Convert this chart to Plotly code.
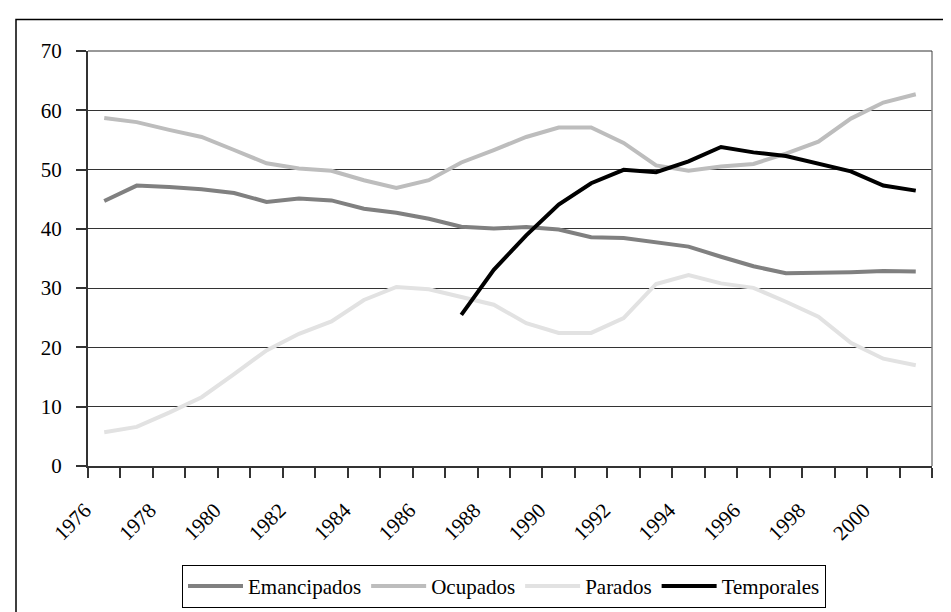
import plotly.graph_objects as go

years = list(range(1976, 2002))
emancipados = [44.7, 47.3, 47.05, 46.7, 46.05, 44.55, 45.1, 44.8, 43.4, 42.7, 41.7, 40.35, 40.05,
               40.3, 39.9, 38.6, 38.45, 37.8, 37.0, 35.3, 33.7, 32.5, 32.55, 32.7, 32.9, 32.8]
ocupados = [58.7, 58.0, 56.7, 55.5, 53.3, 51.05, 50.2, 49.8, 48.2, 46.9, 48.2, 51.2, 53.3,
            55.5, 57.1, 57.1, 54.5, 50.7, 49.8, 50.5, 50.95, 52.7, 54.7, 58.6, 61.3, 62.7]
parados = [5.7, 6.6, 9.0, 11.6, 15.5, 19.5, 22.3, 24.4, 28.0, 30.2, 29.8, 28.5, 27.2,
           24.1, 22.45, 22.45, 24.95, 30.7, 32.2, 30.8, 30.05, 27.7, 25.2, 20.8, 18.1, 17.0]
temporales = [None] * 11 + [25.5, 33.1, 38.9, 44.1, 47.7, 49.95, 49.55, 51.4, 53.8, 52.9,
                            52.3, 51.05, 49.7, 47.3, 46.45]

series_names = ["Emancipados", "Ocupados", "Parados", "Temporales"]
series_values = [emancipados, ocupados, parados, temporales]
series_colors = ["#808080", "#bdbdbd", "#e2e2e2", "#000000"]

# category boundaries for tick marks, labels every other year
tick_positions = [y - 0.5 for y in range(1976, 2003)]
tick_labels = [str(y) if (y - 1976) % 2 == 0 and y <= 2000 else "" for y in range(1976, 2003)]

FONT = "Liberation Serif, Times New Roman, serif"

fig = go.Figure()
for name, vals, col in zip(series_names, series_values, series_colors):
    fig.add_trace(go.Scatter(x=years, y=vals, name=name, mode="lines",
                             line=dict(color=col, width=4), connectgaps=False))

W, H = 951, 612
L, R, T, B = 80, 27, 43, 149
pw, ph = W - L - R, H - T - B

def px_x(x):
    return (x - L) / pw

def px_y(y):
    return (H - B - y) / ph

fig.update_layout(
    width=W, height=H,
    margin=dict(l=L, r=R, t=T, b=B),
    paper_bgcolor="white", plot_bgcolor="white",
    font=dict(family=FONT, size=21, color="#000"),
    showlegend=True,
    legend=dict(orientation="h", x=px_x(496), xanchor="center", y=px_y(563), yanchor="top",
                bordercolor="#000", borderwidth=1, font=dict(size=21, family=FONT),
                bgcolor="white", itemwidth=55, tracegroupgap=0),
    xaxis=dict(range=[1975.5, 2001.5], tickmode="array", tickvals=tick_positions, ticktext=tick_labels,
               tickangle=-45, ticks="outside", ticklen=10, tickcolor="#333", tickwidth=1.5,
               showgrid=False, showline=True, linecolor="#333", linewidth=1.5, zeroline=False,
               ticklabelstandoff=12, ticklabelshift=-3,
               tickfont=dict(size=21, family=FONT)),
    yaxis=dict(range=[0, 70], tickmode="array", tickvals=list(range(0, 71, 10)),
               ticks="outside", ticklen=10, tickcolor="#333", tickwidth=1.5,
               showgrid=True, gridcolor="#333", gridwidth=1,
               showline=True, linecolor="#333", linewidth=2, zeroline=False,
               ticklabelstandoff=10, tickfont=dict(size=21, family=FONT)),
    shapes=[
        dict(type="line", xref="paper", yref="paper", x0=1, x1=1, y0=0, y1=1,
             line=dict(color="#808080", width=1.5)),
        dict(type="line", xref="paper", yref="paper", x0=0, x1=1, y0=1, y1=1,
             line=dict(color="#333", width=1)),
        dict(type="rect", xref="paper", yref="paper", x0=px_x(8), x1=px_x(970),
             y0=px_y(630), y1=px_y(11), line=dict(color="#000", width=1.5), layer="below"),
    ],
)

fig.write_html("out.html")
